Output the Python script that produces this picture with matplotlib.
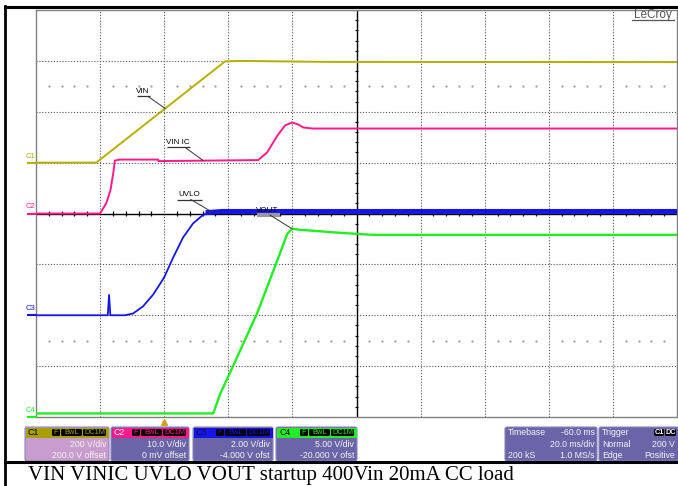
import numpy as np
import matplotlib.pyplot as plt
from matplotlib.patches import FancyBboxPatch, Rectangle

# time axis (ms), 20 ms/div, trigger at -40 ms + 2 div
t_left, t_right = -40, 160

# channel settings: V/div and offset
ch_names = ["C1", "C2", "C3", "C4"]
ch_vdiv = [200.0, 10.0, 2.0, 5.0]
ch_offset = [200.0, 0.0, -4.0, -20.0]
ch_colors = ["#b5b000", "#ff1a8c", "#1515e6", "#22ee22"]

# C1 - VIN
vin_t = [-40, -21.2, 19.0, 24, 50, 160]
vin_v = [0, 0, 398, 400, 396, 395]

# C2 - VIN IC
vinic_t = [-40, -20.0, -18.1, -16.8, -15.9, -15.4, -14, -1.9, -1.8, 29.3,
           32.1, 35.3, 37.7, 39.9, 41.8, 43.4, 46.5, 160]
vinic_v = [0, 0, 2.0, 4.5, 7.9, 10.4, 10.6, 10.6, 10.3, 10.5,
           12.0, 15.3, 17.3, 17.9, 17.5, 16.9, 16.7, 16.7]

# C3 - UVLO
uvlo_t = [-40, -17.6, -17.2, -16.8, -12.2, -9.7, -6.6, -3.4, 0, 2.8,
          5.9, 9.0, 11.9, 13.7, 18, 160]
uvlo_v = [0, 0, 0.8, 0, 0, 0.07, 0.35, 0.82, 1.49, 2.27,
          3.06, 3.61, 3.92, 4.04, 4.08, 4.08]

# C4 - VOUT
vout_t = [-40, 15.3, 17.5, 20.6, 29.0, 35.3, 38.4, 39.9, 42.4, 54.9, 65.2, 160]
vout_v = [0.35, 0.35, 2.3, 4.4, 10.2, 15.4, 18.0, 18.5, 18.4, 18.1, 17.9, 17.9]

vdiv_text = ["200 V/div", "10.0 V/div", "2.00 V/div", "5.00 V/div"]
offs_text = ["200.0 V offset", "0 mV offset", "-4.000 V ofst", "-20.000 V ofst"]

caption = "VIN VINIC UVLO VOUT startup 400Vin 20mA CC load"


def to_div(v, ch):
    return (np.asarray(v, dtype=float) + ch_offset[ch]) / ch_vdiv[ch]


fig = plt.figure(figsize=(6.78, 4.86), dpi=100)
fig.patch.set_facecolor("white")

ax = fig.add_axes([36 / 678, (486 - 417) / 486, 641 / 678, 407 / 486], zorder=1)
ax.set_xlim(t_left, t_right)
ax.set_ylim(-4, 4)
ax.set_xticks([])
ax.set_yticks([])
for s in ax.spines.values():
    s.set_color("#808080")
    s.set_linewidth(1.0)

# pixel overlay for frame, info boxes and caption
px = fig.add_axes([0, 0, 1, 1], zorder=2)
px.set_xlim(0, 678)
px.set_ylim(486, 0)
px.axis("off")

# graticule
grid_kw = dict(color="#555555", lw=0.8, ls=(0, (1, 1.6)), zorder=1)
for yv in [-3, -2, -1, 1, 2, 3]:
    ax.axhline(yv, **grid_kw)
for tv in [-20, 0, 20, 40, 80, 100, 120, 140]:
    ax.axvline(tv, **grid_kw)
ax.axhline(0, color="black", lw=1.0, zorder=1)
ax.axvline(60, color="black", lw=1.0, zorder=1)

tick_x = [x for x in np.arange(t_left, t_right + 1, 4) if x % 20 != 0]
ax.vlines(tick_x, -0.05, 0.05, color="black", lw=0.9, zorder=1)
tick_y = [y for y in np.arange(-4, 4.01, 0.2) if abs(y - round(y)) > 1e-6]
ax.hlines(tick_y, 59.4, 60.6, color="black", lw=0.9, zorder=1)

for yv in [2.5, -2.5]:
    ax.plot(tick_x, [yv] * len(tick_x), ls="none", marker="s", ms=0.6,
            color="#a0a0a0", zorder=1)

# traces
vin_d = to_div(vin_v, 0)
vinic_d = to_div(vinic_v, 1)
uvlo_d = to_div(uvlo_v, 2)
vout_d = to_div(vout_v, 3)

ax.plot(vin_t, vin_d, color=ch_colors[0], lw=1.4, zorder=3)
ax.plot(vinic_t, vinic_d, color=ch_colors[1], lw=1.4, zorder=3)
ax.plot(uvlo_t, uvlo_d, color=ch_colors[2], lw=1.3, zorder=3)
ax.plot(uvlo_t[13:], uvlo_d[13:], color=ch_colors[2], lw=3.6, zorder=3)
ax.plot(vout_t, vout_d, color=ch_colors[3], lw=1.7, zorder=3)

# ground markers on the left edge
for i, name in enumerate(ch_names):
    g = ch_offset[i] / ch_vdiv[i]
    ax.plot([-42.5, -40], [g, g], color=ch_colors[i], lw=1.5, clip_on=False, zorder=4)
    ax.text(-43.2, g + 0.13, name, color=ch_colors[i], fontsize=5.5,
            family="Liberation Sans", ha="left", va="center", clip_on=False)


def trace_label(text, tx, ty, u0, u1, uy, lead_from, lead_t, tr_t, tr_d, box=False):
    yt = np.interp(lead_t, tr_t, tr_d)
    ax.text(tx, ty, text, fontsize=5.8, family="Liberation Sans", ha="center",
            va="center", color="black", zorder=6)
    ax.plot([u0, u1], [uy, uy], color="#9a9a9a" if box else "#333333",
            lw=3.0 if box else 0.9, zorder=5, solid_capstyle="butt")
    ax.plot([lead_from, lead_t], [uy, yt], color="#333333", lw=0.7, zorder=5)


trace_label("VIN", -6.6, 2.40, -8.4, -4.4, 2.30, -5.0, 0.3, vin_t, vin_d)
trace_label("VIN IC", 4.4, 1.39, 0.9, 8.1, 1.30, 6.5, 12.2, vinic_t, vinic_d)
trace_label("UVLO", 7.8, 0.37, 4.1, 11.9, 0.275, 8.3, 15.0, uvlo_t, uvlo_d)
trace_label("VOUT", 32.2, 0.06, 29.0, 36.0, -0.03, 33.0, 39.9, vout_t, vout_d, box=True)

# outer frame
px.plot([5, 678], [7, 7], color="black", lw=2.2)
px.plot([5, 5], [6, 486], color="black", lw=2.0)
px.plot([5, 678], [462, 462], color="black", lw=2.2)

px.text(653, 15, "LeCroy", color="#555555", fontsize=8.5, family="Liberation Sans",
        ha="center", va="center")
px.plot([632, 674], [20.5, 20.5], color="#555555", lw=0.9)

# trigger position marker
px.plot([164], [421.5], marker="^", ms=5, color="#d4a020", ls="none")

txt_kw = dict(family="Liberation Sans", fontsize=6.3, va="center")
body_col = "#6c64a8"
box_x = [25, 111, 193, 276]
box_w = [84, 78, 80, 81]
head_txt = ["black", "white", "#101040", "black"]
for i in range(4):
    x0, w = box_x[i], box_w[i]
    body = "#c89ccc" if i == 0 else body_col
    header = "#a8a000" if i == 0 else ch_colors[i]
    px.add_patch(FancyBboxPatch((x0, 427), w, 34, boxstyle="round,pad=0,rounding_size=2",
                                fc=body, ec="#8c86bc", lw=0.8))
    px.add_patch(Rectangle((x0 + 0.5, 427.5), w - 1, 10.5, fc=header, ec="none"))
    px.text(x0 + 3, 432.5, ch_names[i], color=head_txt[i], **txt_kw)
    for lab, bx0, bx1 in [("F", w - 57, w - 49), ("BwL", w - 48, w - 27), ("DC1M", w - 26, w - 3)]:
        px.add_patch(FancyBboxPatch((x0 + bx0, 429), bx1 - bx0, 7,
                                    boxstyle="round,pad=0,rounding_size=1.5",
                                    fc="black", ec="none"))
        px.text(x0 + (bx0 + bx1) / 2, 432.7, lab, color=header, ha="center",
                family="Liberation Sans", fontsize=5.3, va="center")
    px.text(x0 + w - 3, 444, vdiv_text[i], color="#f4f4f4", ha="right", **txt_kw)
    px.text(x0 + w - 3, 455, offs_text[i], color="#f4f4f4", ha="right", **txt_kw)

# timebase and trigger boxes
px.add_patch(FancyBboxPatch((505, 427), 92, 34, boxstyle="round,pad=0,rounding_size=2",
                            fc=body_col, ec="#8c86bc", lw=0.8))
px.text(508, 432.5, "Timebase", color="#f4f4f4", ha="left", **txt_kw)
px.text(595, 432.5, "-60.0 ms", color="#f4f4f4", ha="right", **txt_kw)
px.text(595, 444, "20.0 ms/div", color="#f4f4f4", ha="right", **txt_kw)
px.text(508, 455, "200 kS", color="#f4f4f4", ha="left", **txt_kw)
px.text(595, 455, "1.0 MS/s", color="#f4f4f4", ha="right", **txt_kw)

px.add_patch(FancyBboxPatch((599, 427), 85, 34, boxstyle="round,pad=0,rounding_size=2",
                            fc=body_col, ec="#8c86bc", lw=0.8))
px.text(602, 432.5, "Trigger", color="#f4f4f4", ha="left", **txt_kw)
for lab, bx0, bx1 in [("C1", 654, 664), ("DC", 665, 676)]:
    px.add_patch(FancyBboxPatch((bx0, 429), bx1 - bx0, 7,
                                boxstyle="round,pad=0,rounding_size=1.5",
                                fc="black", ec="none"))
    px.text((bx0 + bx1) / 2, 432.7, lab, color="white", ha="center",
            family="Liberation Sans", fontsize=5.3, va="center", fontweight="bold")
px.text(602, 444, "Normal", color="#f4f4f4", ha="left", **txt_kw)
px.text(675, 444, "200 V", color="#f4f4f4", ha="right", **txt_kw)
px.text(602, 455, "Edge", color="#f4f4f4", ha="left", **txt_kw)
px.text(675, 455, "Positive", color="#f4f4f4", ha="right", **txt_kw)

px.text(28, 475, caption, family="Liberation Serif", fontsize=15, ha="left",
        va="center", color="black")

fig.savefig("out.png", dpi=100)
